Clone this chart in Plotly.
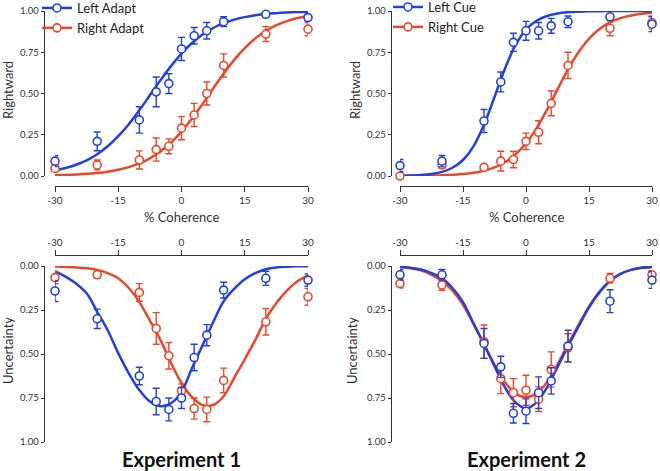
import plotly.graph_objects as go

# ---------------- data ----------------
coherence = [-30, -20, -10, -6, -3, 0, 3, 6, 10, 20, 30]
curve_x = [-30, -27.5, -25, -22.5, -20, -17.5, -15, -12.5, -10, -7.5, -5, -2.5, 0,
           2.5, 5, 7.5, 10, 12.5, 15, 17.5, 20, 22.5, 25, 27.5, 30]
x_tickvals = [-30, -15, 0, 15, 30]
x_ticktext = ["-30", "-15", "0", "15", "30"]
y_tickvals = [0, 0.25, 0.5, 0.75, 1.0]
y_ticktext = ["0.00", "0.25", "0.50", "0.75", "1.00"]

# Experiment 1 - Rightward
e1_rw_left = [0.09, 0.21, 0.34, 0.51, 0.56, 0.77, 0.85, 0.88, 0.935, 0.98, 0.96]
e1_rw_left_err = [0.033, 0.057, 0.08, 0.09, 0.06, 0.07, 0.05, 0.05, 0.03, 0.012, 0.02]
e1_rw_right = [0.046, 0.067, 0.097, 0.16, 0.18, 0.29, 0.37, 0.50, 0.67, 0.86, 0.89]
e1_rw_right_err = [0.02, 0.03, 0.055, 0.07, 0.045, 0.07, 0.07, 0.07, 0.07, 0.045, 0.04]
e1_rw_left_fit = [0.034, 0.048, 0.068, 0.095, 0.132, 0.18, 0.241, 0.314, 0.398, 0.489, 0.58, 0.666,
                  0.742, 0.806, 0.858, 0.897, 0.926, 0.948, 0.963, 0.974, 0.982, 0.987, 0.991, 0.994, 0.996]
e1_rw_right_fit = [0.004, 0.006, 0.009, 0.013, 0.018, 0.026, 0.038, 0.054, 0.076, 0.107, 0.149, 0.202,
                   0.269, 0.348, 0.437, 0.53, 0.621, 0.704, 0.775, 0.834, 0.879, 0.914, 0.939, 0.957, 0.97]

# Experiment 2 - Rightward
e2_rw_left = [0.063, 0.09, 0.333, 0.57, 0.81, 0.88, 0.88, 0.91, 0.935, 0.965, 0.92]
e2_rw_left_err = [0.037, 0.035, 0.07, 0.06, 0.055, 0.057, 0.05, 0.045, 0.035, 0.015, 0.045]
e2_rw_right = [0.0, 0.067, 0.052, 0.09, 0.10, 0.21, 0.265, 0.44, 0.67, 0.895, 0.93]
e2_rw_right_err = [0.008, 0.02, 0.015, 0.06, 0.05, 0.05, 0.07, 0.075, 0.08, 0.045, 0.04]
e2_rw_left_fit = [0.0015, 0.003, 0.006, 0.0125, 0.025, 0.05, 0.097, 0.18, 0.31, 0.479, 0.652, 0.793,
                  0.887, 0.941, 0.97, 0.985, 0.993, 0.996, 0.998, 0.999, 0.9995, 1.0, 1.0, 1.0, 1.0]
e2_rw_right_fit = [0.0006, 0.001, 0.0017, 0.0027, 0.0045, 0.0074, 0.012, 0.02, 0.032, 0.052, 0.083, 0.13,
                   0.198, 0.289, 0.401, 0.525, 0.646, 0.75, 0.832, 0.891, 0.931, 0.957, 0.973, 0.984, 0.99]

# Experiment 1 - Uncertainty
e1_un_left = [0.142, 0.30, 0.625, 0.77, 0.815, 0.75, 0.52, 0.393, 0.137, 0.07, 0.08]
e1_un_left_err = [0.06, 0.055, 0.05, 0.075, 0.065, 0.06, 0.075, 0.06, 0.045, 0.04, 0.035]
e1_un_right = [0.066, 0.05, 0.15, 0.355, 0.51, 0.71, 0.81, 0.815, 0.65, 0.317, 0.175]
e1_un_right_err = [0.035, 0.02, 0.05, 0.09, 0.075, 0.04, 0.06, 0.07, 0.07, 0.075, 0.048]
e1_un_left_fit = [0.03, 0.06, 0.10, 0.155, 0.26, 0.365, 0.495, 0.61, 0.705, 0.77, 0.797, 0.78,
                  0.715, 0.58, 0.45, 0.32, 0.20, 0.13, 0.075, 0.04, 0.018, 0.008, 0.004, 0.002, 0.001]
e1_un_right_fit = [0.003, 0.005, 0.008, 0.013, 0.022, 0.04, 0.07, 0.125, 0.205, 0.31, 0.42, 0.55,
                   0.665, 0.745, 0.79, 0.79, 0.74, 0.635, 0.53, 0.42, 0.30, 0.21, 0.14, 0.087, 0.053]

# Experiment 2 - Uncertainty
e2_un_left = [0.05, 0.05, 0.44, 0.573, 0.837, 0.825, 0.72, 0.653, 0.455, 0.2, 0.08]
e2_un_left_err = [0.03, 0.03, 0.085, 0.06, 0.055, 0.07, 0.09, 0.075, 0.09, 0.065, 0.047]
e2_un_right = [0.1, 0.108, 0.43, 0.64, 0.72, 0.706, 0.757, 0.588, 0.465, 0.07, 0.05]
e2_un_right_err = [0.025, 0.03, 0.095, 0.085, 0.08, 0.085, 0.07, 0.1, 0.08, 0.027, 0.023]
e2_un_left_fit = [0.004, 0.01, 0.02, 0.04, 0.07, 0.125, 0.205, 0.325, 0.445, 0.57, 0.69, 0.775,
                  0.81, 0.775, 0.69, 0.575, 0.455, 0.345, 0.235, 0.15, 0.085, 0.045, 0.022, 0.01, 0.005]
e2_un_right_fit = [0.006, 0.013, 0.025, 0.05, 0.085, 0.14, 0.22, 0.33, 0.445, 0.56, 0.66, 0.725,
                   0.745, 0.725, 0.66, 0.56, 0.445, 0.335, 0.23, 0.145, 0.085, 0.045, 0.022, 0.01, 0.005]

# ---------------- style ----------------
BLUE = "#2340d8"
RED = "#e8472a"
AXC = "#333333"
FONT = "Lato, 'Open Sans', sans-serif"
W, H = 660, 471

def px_x(p):
    return p / W

def px_y(p):
    return 1 - p / H

fig = go.Figure()

panels = [
    ("x", "y", e1_rw_left, e1_rw_left_err, e1_rw_right, e1_rw_right_err, e1_rw_left_fit, e1_rw_right_fit),
    ("x2", "y2", e2_rw_left, e2_rw_left_err, e2_rw_right, e2_rw_right_err, e2_rw_left_fit, e2_rw_right_fit),
    ("x3", "y3", e1_un_left, e1_un_left_err, e1_un_right, e1_un_right_err, e1_un_left_fit, e1_un_right_fit),
    ("x4", "y4", e2_un_left, e2_un_left_err, e2_un_right, e2_un_right_err, e2_un_left_fit, e2_un_right_fit),
]

for xa, ya, lv, le, rv, re, lf, rf in panels:
    fig.add_trace(go.Scatter(x=curve_x, y=rf, mode="lines", line=dict(color=RED, width=2.5, shape="spline"),
                             xaxis=xa, yaxis=ya, showlegend=False, hoverinfo="skip"))
    fig.add_trace(go.Scatter(x=curve_x, y=lf, mode="lines", line=dict(color=BLUE, width=2.5, shape="spline"),
                             xaxis=xa, yaxis=ya, showlegend=False, hoverinfo="skip"))
    for vals, errs, col in ((rv, re, RED), (lv, le, BLUE)):
        fig.add_trace(go.Scatter(
            x=coherence, y=vals, mode="markers", xaxis=xa, yaxis=ya, showlegend=False,
            cliponaxis=False,
            marker=dict(symbol="circle", size=8, color="white", line=dict(color=col, width=1.6)),
            error_y=dict(type="data", array=errs, visible=True, color=col, thickness=1.4, width=3.5),
        ))

# legend entries
for name, col, leg in (("Left Adapt", BLUE, "legend"), ("Right Adapt", RED, "legend"),
                       ("Left Cue", BLUE, "legend2"), ("Right Cue", RED, "legend2")):
    fig.add_trace(go.Scatter(x=[None], y=[None], mode="lines+markers", name=name, legend=leg,
                             xaxis="x", yaxis="y",
                             line=dict(color=col, width=2.5),
                             marker=dict(symbol="circle", size=8, color="white", line=dict(color=col, width=1.6))))

def xaxis_cfg(x0, x1, pos, side):
    return dict(domain=[px_x(x0), px_x(x1)], range=[-30, 30], anchor="free", position=pos, side=side,
                tickvals=x_tickvals, ticktext=x_ticktext, ticks="outside", ticklen=5, tickwidth=1.3,
                tickcolor=AXC, showline=True, linecolor=AXC, linewidth=1.4, showgrid=False, zeroline=False,
                tickfont=dict(size=10, color=AXC, family=FONT), fixedrange=True, automargin=False,
                ticklabeloverflow="allow")

def yaxis_cfg(y_top, y_bot, pos, rev):
    return dict(domain=[px_y(y_bot), px_y(y_top)], range=[1, 0] if rev else [0, 1], anchor="free",
                position=pos, tickvals=y_tickvals, ticktext=y_ticktext, ticks="outside", ticklen=3,
                tickwidth=1.3, tickcolor=AXC, showline=True, linecolor=AXC, linewidth=1.4,
                showgrid=False, zeroline=False, tickfont=dict(size=9.5, color=AXC, family=FONT),
                fixedrange=True, automargin=False, ticklabeloverflow="allow")

LX0, LX1, RX0, RX1 = 55, 308, 400, 652
TOP_T, TOP_B, BOT_T, BOT_B = 11, 176, 266, 442

fig.update_layout(
    width=W, height=H, margin=dict(l=0, r=0, t=0, b=0, pad=0, autoexpand=False),
    paper_bgcolor="white", plot_bgcolor="white",
    font=dict(family=FONT, color=AXC),
    xaxis=xaxis_cfg(LX0, LX1, px_y(186), "bottom"),
    xaxis2=xaxis_cfg(RX0, RX1, px_y(186), "bottom"),
    xaxis3=xaxis_cfg(LX0, LX1, px_y(255), "top"),
    xaxis4=xaxis_cfg(RX0, RX1, px_y(255), "top"),
    yaxis=yaxis_cfg(TOP_T, TOP_B, px_x(44), False),
    yaxis2=yaxis_cfg(TOP_T, TOP_B, px_x(391), False),
    yaxis3=yaxis_cfg(BOT_T, BOT_B, px_x(44), True),
    yaxis4=yaxis_cfg(BOT_T, BOT_B, px_x(391), True),
    legend=dict(x=px_x(37), y=1 + 7 / H, xanchor="left", yanchor="top", bgcolor="rgba(0,0,0,0)",
                font=dict(size=13, family=FONT, color="#222"), tracegroupgap=0, itemwidth=30),
    legend2=dict(x=px_x(388), y=1 + 8 / H, xanchor="left", yanchor="top", bgcolor="rgba(0,0,0,0)",
                 font=dict(size=13, family=FONT, color="#222"), tracegroupgap=0, itemwidth=30),
    showlegend=True,
)

annots = [
    dict(text="Rightward", x=px_x(8), y=px_y(90), textangle=-90, font=dict(size=13)),
    dict(text="Rightward", x=px_x(355), y=px_y(90), textangle=-90, font=dict(size=13)),
    dict(text="Uncertainty", x=px_x(8), y=px_y(351), textangle=-90, font=dict(size=13)),
    dict(text="Uncertainty", x=px_x(352), y=px_y(351), textangle=-90, font=dict(size=13)),
    dict(text="% Coherence", x=px_x(181), y=px_y(217), font=dict(size=13)),
    dict(text="% Coherence", x=px_x(526), y=px_y(217), font=dict(size=13)),
    dict(text="<b>Experiment 1</b>", x=px_x(181), y=px_y(459), font=dict(size=20, color="#111", weight=900)),
    dict(text="<b>Experiment 2</b>", x=px_x(526), y=px_y(459), font=dict(size=20, color="#111", weight=900)),
]
for a in annots:
    a.update(xref="paper", yref="paper", showarrow=False, xanchor="center", yanchor="middle")
    fig.add_annotation(**a)

fig.write_html("out.html", config={"displayModeBar": False},
               post_script="document.body.style.margin='0';document.body.style.overflow='hidden';")
